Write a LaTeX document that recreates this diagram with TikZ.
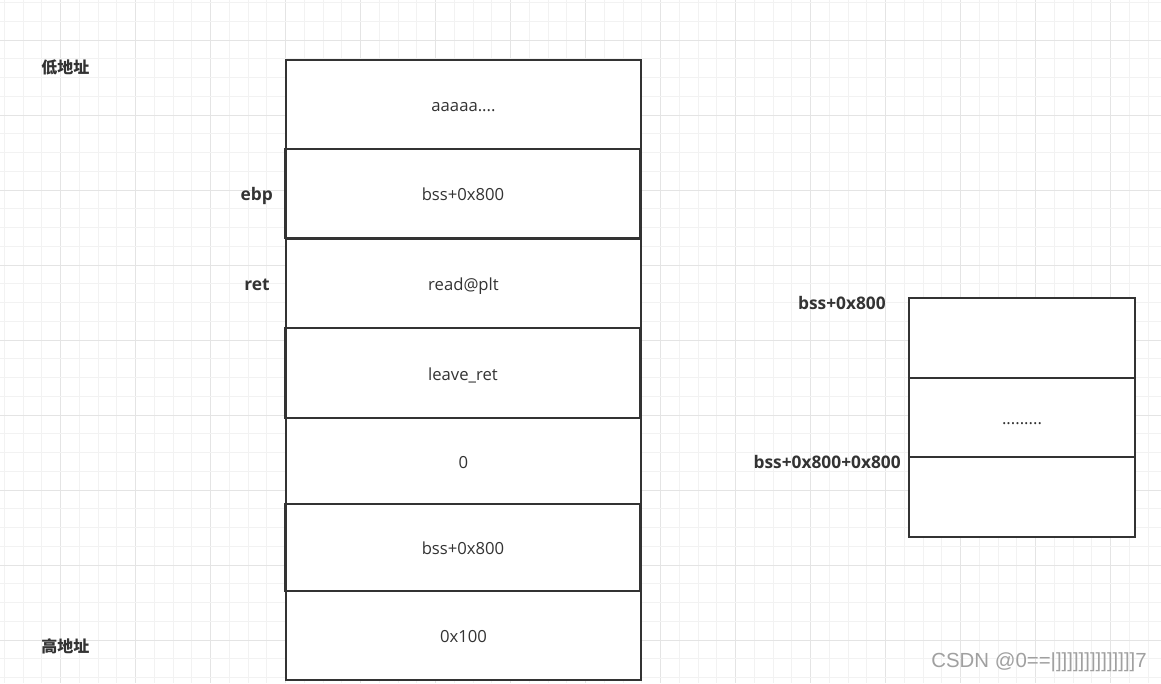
\documentclass[tikz,border=0pt]{standalone}
\usepackage{fontspec}
\setmainfont{Open Sans}
\newfontfamily\cjk{Noto Sans CJK SC}
\newfontfamily\wmfont{Liberation Sans}
\definecolor{gridminor}{HTML}{F2F2F2}
\definecolor{gridmajor}{HTML}{E4E4E4}
\definecolor{ink}{HTML}{333333}
\definecolor{wm}{HTML}{A0A0A0}
\tikzset{
  cell/.style={draw=ink, line width=1.9pt, fill=white, inner sep=0pt,
    minimum width=266.25pt, text=ink, text height=11.4pt, text depth=0.6pt,
    font=\fontsize{12.5}{14}\selectfont},
  rcell/.style={cell, minimum width=169.5pt},
  lab/.style={inner sep=0pt, text=ink, font=\fontsize{13}{15}\selectfont\bfseries},
  cnlab/.style={inner sep=0pt, text=ink, font=\fontsize{12}{14}\selectfont\cjk\bfseries},
}
\begin{document}
\begin{tikzpicture}[x=0.75pt,y=-0.75pt]
\useasboundingbox (0,0) rectangle (1161,683);
\fill[white] (0,0) rectangle (1161,683);
% grid
\foreach \k in {0,...,61}{
  \pgfmathsetmacro{\xx}{4.25+18.75*\k}
  \pgfmathtruncatemacro{\m}{mod(\k+1,4)}
  \ifnum\m=0
    \draw[gridmajor, line width=0.75pt] (\xx,0) -- (\xx,683);
  \else
    \draw[gridminor, line width=0.75pt] (\xx,0) -- (\xx,683);
  \fi
}
\foreach \k in {0,...,36}{
  \pgfmathsetmacro{\yy}{2.5+18.75*\k}
  \pgfmathtruncatemacro{\m}{mod(\k+2,4)}
  \ifnum\m=0
    \draw[gridmajor, line width=0.75pt] (0,\yy) -- (1161,\yy);
  \else
    \draw[gridminor, line width=0.75pt] (0,\yy) -- (1161,\yy);
  \fi
}
% left stack
\node[cell, minimum height=66.75pt] (s1) at (463.5,104.5) {aaaaa....};
\node[cell, minimum height=66.75pt] (s2) at (463,193.5) {bss+0x800};
\node[cell, minimum height=67.5pt] (s3) at (463.5,283.5) {read@plt};
\node[cell, minimum height=67.5pt] (s4) at (463,373) {leave\_ret};
\node[cell, minimum height=64.5pt] (s5) at (463.5,461) {0};
\node[cell, minimum height=65.25pt] (s6) at (463,547.5) {bss+0x800};
\node[cell, minimum height=66.75pt] (s7) at (463.5,635.5) {0x100};
% right stack
\node[rcell, minimum height=60pt] (r1) at (1022,338) {};
\node[rcell, minimum height=59.25pt] (r2) at (1022,417.5) {.........};
\node[rcell, minimum height=60pt] (r3) at (1022,497) {};
% labels
\node[cnlab, anchor=base west] (low) at (41,73) {低地址};
\node[cnlab, anchor=base west] (high) at (41,652) {高地址};
\node[lab, anchor=base east] (ebp) at (273,200) {ebp};
\node[lab, anchor=base east] (ret) at (270,290) {ret};
\node[lab, anchor=base east] (b1) at (886,309.3) {bss+0x800};
\node[lab, anchor=base east] (b2) at (901,468.3) {bss+0x800+0x800};
% watermark
\node[inner sep=0pt, anchor=base east, text=wm, font=\fontsize{15.3}{17}\selectfont\wmfont] (wmark) at (1147,667.5) {CSDN @0==|]]]]]]]]]]]]]]7};
\end{tikzpicture}
\end{document}
